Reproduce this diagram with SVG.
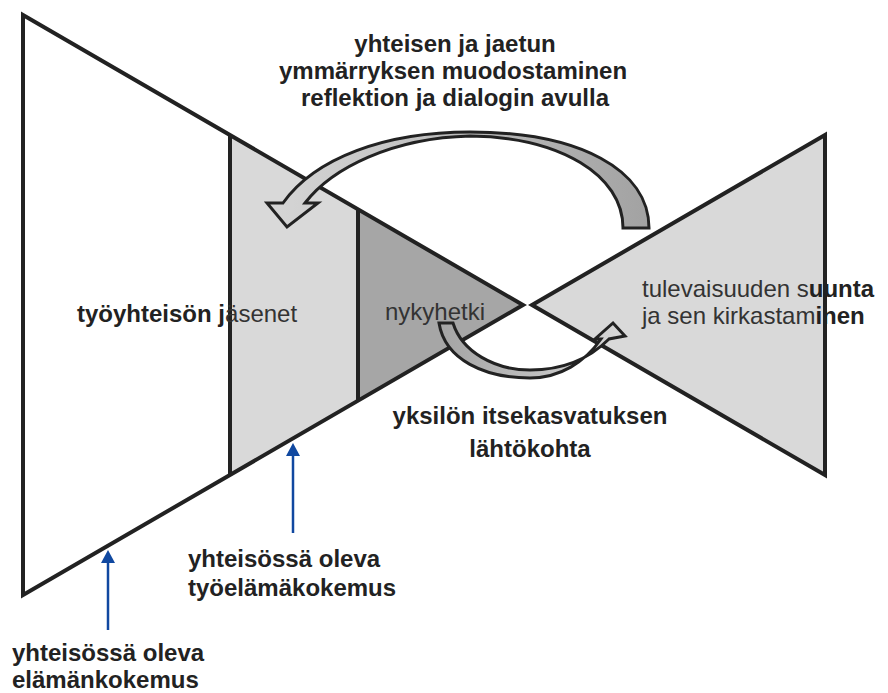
<svg xmlns="http://www.w3.org/2000/svg" width="888" height="693" viewBox="0 0 888 693">
<style>
.edge{fill:none;stroke:#222;stroke-width:4;stroke-linejoin:miter}
.arrow{stroke:#222;stroke-width:3;stroke-linejoin:miter}
.t{font-family:"Liberation Sans",Arial,sans-serif;font-size:24px;fill:#222}
.b{font-weight:bold;fill:#222}
.r{font-weight:normal;fill:#333}
.blue{fill:none;stroke:#1048a0;stroke-width:2.5}
</style>
<defs>
<linearGradient id="gTop" gradientUnits="userSpaceOnUse" x1="270" y1="0" x2="650" y2="0">
<stop offset="0" stop-color="#d6d6d6"/>
<stop offset="1" stop-color="#a2a2a2"/>
</linearGradient>
<linearGradient id="gBot" gradientUnits="userSpaceOnUse" x1="440" y1="0" x2="625" y2="0">
<stop offset="0" stop-color="#a4a4a4"/>
<stop offset="1" stop-color="#d8d8d8"/>
</linearGradient>
<marker id="blueHead" markerUnits="userSpaceOnUse" markerWidth="14" markerHeight="14" viewBox="0 -7 14 14" refX="0" refY="0" orient="auto">
<path d="M0,-7 L13,0 L0,7 Z" fill="#1048a0"/>
</marker>
</defs>

<g id="past-triangle">
<polygon points="23,15 523,305 23,595" fill="#fff"/>
<polygon points="230,135 358,209 358,401 230,475" fill="#d9d9d9"/>
<polygon points="358,209 523,305 358,401" fill="#a6a6a6"/>
<path class="edge" d="M23,15 L523,305 L23,595 Z"/>
<path class="edge" d="M230,135 V475 M358,209 V401"/>
</g>

<g id="future-triangle">
<path class="edge" d="M532,305 L825,135 L825,475 Z" style="fill:#d9d9d9"/>
</g>

<g id="connectors">
<path id="arrow-top" class="arrow" fill="url(#gTop)" d="M649,228 C649,170 580,132 470,132 C385,132 315,158 283,203 L267,203 L287,227 L318,203 L305,203 C332,168 392,138 470,136 C560,137 623,175 623,228 Z"/>
<path id="arrow-bottom" class="arrow" fill="url(#gBot)" d="M439,323 L453,323 C462,352 495,370 530,370 C563,370 590,358 609,339 L625,336 L613,323 L595,339 L601,339 C585,362 560,378 530,378 C485,378 445,360 439,323 Z"/>
<path id="arrow-life" class="blue" d="M108,630 V563" marker-end="url(#blueHead)"/>
<path id="arrow-work" class="blue" d="M293,533 V456" marker-end="url(#blueHead)"/>
</g>

<g id="label-title">
<text class="t b" text-anchor="middle" x="455" y="52">yhteisen ja jaetun</text>
<text class="t b" text-anchor="middle" x="453" y="79">ymmärryksen muodostaminen</text>
<text class="t b" text-anchor="middle" x="455" y="106">reflektion ja dialogin avulla</text>
</g>

<g id="node-members">
<text class="t b" x="77" y="322">työyhteisön j<tspan class="r">äsenet</tspan></text>
</g>

<g id="node-now">
<text class="t r" x="385" y="320">nykyhetki</text>
</g>

<g id="node-future">
<text class="t r" x="642" y="297">tulevaisuuden s<tspan class="b">uunta</tspan></text>
<text class="t r" x="642" y="324">ja sen kirkastam<tspan class="b">inen</tspan></text>
</g>

<g id="label-individual">
<text class="t b" text-anchor="middle" x="530" y="424">yksilön itsekasvatuksen</text>
<text class="t b" text-anchor="middle" x="530" y="457">lähtökohta</text>
</g>

<g id="label-work">
<text class="t b" x="188" y="567">yhteisössä oleva</text>
<text class="t b" x="188" y="596">työelämäkokemus</text>
</g>

<g id="label-life">
<text class="t b" x="12" y="661">yhteisössä oleva</text>
<text class="t b" x="12" y="688">elämänkokemus</text>
</g>
</svg>
